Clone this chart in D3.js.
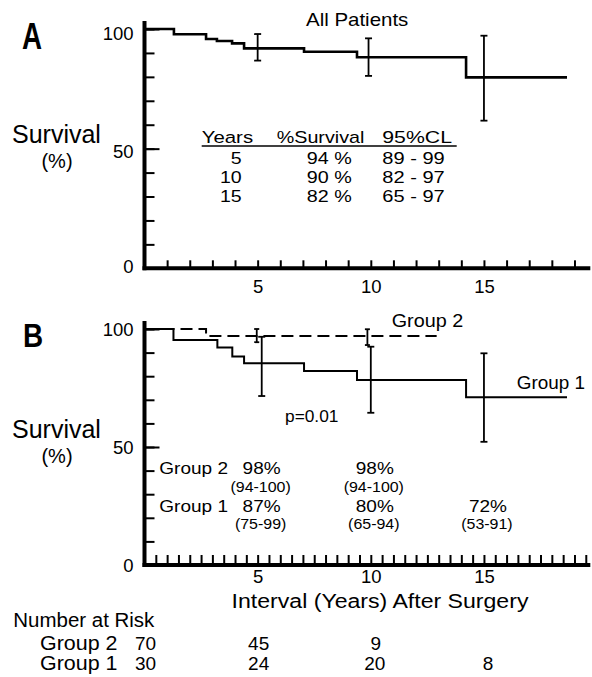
<!DOCTYPE html>
<html>
<head>
<meta charset="utf-8">
<script src="https://cdn.jsdelivr.net/npm/d3@7"></script>
<style>
  body { margin: 0; background: #fff; }
  svg { display: block; font-family: "Liberation Sans", Arial, sans-serif; }
  .axis text { font-size: 18.5px; fill: #000; }
  .axis line { stroke: #000; stroke-width: 2; }
</style>
</head>
<body>
<div id="chart"></div>
<script>
// Panel A - all patients (step curve)
const A_TIMES = [0, 1.30, 2.72, 3.20, 3.87, 4.40, 7.05, 9.39, 14.21];
const A_SURV = [100, 97.8, 95.8, 95.0, 94.0, 91.9, 90.5, 88.2, 79.8];
const A_END = 18.67;
const A_ERR_YEARS = [5, 9.9, 15];
const A_ERR_LO = [86.8, 80.4, 61.7];
const A_ERR_HI = [97.9, 96.1, 97.2];

const TABLE_YEARS = ['5', '10', '15'];
const TABLE_SURV = ['94 %', '90 %', '82 %'];
const TABLE_CL = ['89 - 99', '82 - 97', '65 - 97'];

// Panel B - two groups
const G2_TIMES = [0, 2.72];
const G2_SURV = [100, 97.0];
const G2_END = 12.91;
const G1_TIMES = [0, 1.28, 3.22, 3.88, 4.40, 7.05, 9.39, 14.21];
const G1_SURV = [100, 95.3, 92.2, 88.3, 85.5, 82.2, 78.4, 71.1];
const G1_END = 18.67;

const G2_ERR_YEARS = [4.96, 9.85];
const G2_ERR_LO = [94.4, 93.2];
const G2_ERR_HI = [100, 99.9];
const G1_ERR_YEARS = [5.18, 10.0, 15.0];
const G1_ERR_LO = [71.6, 64.5, 52.2];
const G1_ERR_HI = [96.7, 92.5, 89.7];

const STAT_YEARS = [5, 10, 15];
const G2_PCT = ['98%', '98%'];
const G2_CI = ['(94-100)', '(94-100)'];
const G1_PCT = ['87%', '80%', '72%'];
const G1_CI = ['(75-99)', '(65-94)', '(53-91)'];

// Number at risk
const RISK_YEARS = [0, 5, 10, 15];
const RISK_G2 = [70, 45, 9];
const RISK_G1 = [30, 24, 20, 8];

const Y_TICKS = d3.range(0, 101, 10);
const Y_LABELS = [0, 50, 100];

const W = 592, H = 677;
const svg = d3.select('#chart').append('svg').attr('width', W).attr('height', H);

const x = d3.scaleLinear().domain([0, 20]).range([144.5, 597.1]);
const yA = d3.scaleLinear().domain([0, 100]).range([268.3, 29]);
const yB = d3.scaleLinear().domain([0, 100]).range([565, 329]);

function txt(g, px, py, s, size, anchor = 'start', sx = 1, weight = 'normal') {
    return g.append('text')
        .attr('transform', `translate(${px},${py}) scale(${sx},1)`)
        .attr('font-size', size)
        .attr('font-weight', weight)
        .attr('text-anchor', anchor)
        .attr('fill', '#000')
        .text(s);
}

function toSteps(times, surv, end) {
    const pts = times.map((t, i) => ({ t, s: surv[i] }));
    pts.push({ t: end, s: surv[surv.length - 1] });
    return pts;
}

// Axes frame for one panel
function drawAxes(y, xTickStep, xTickLen, xPad, yLabelDy) {
    const g = svg.append('g');

    // minor y ticks
    g.append('g').attr('class', 'axis')
        .attr('transform', `translate(${x(0)},0)`)
        .call(d3.axisLeft(y).tickValues(Y_TICKS).tickSizeInner(-10).tickSizeOuter(0).tickFormat(''))
        .call(a => a.select('.domain').remove());

    // major y ticks with labels
    g.append('g').attr('class', 'axis')
        .attr('transform', `translate(${x(0)},0)`)
        .call(d3.axisLeft(y).tickValues(Y_LABELS).tickSizeInner(-15).tickSizeOuter(0).tickPadding(11))
        .call(a => a.select('.domain').remove())
        .call(a => a.selectAll('text').attr('dy', null).attr('y', d => yLabelDy(d)));

    // x ticks
    const xTicks = d3.range(xTickStep, 19.6, xTickStep);
    g.append('g').attr('class', 'axis')
        .attr('transform', `translate(0,${y(0)})`)
        .call(d3.axisBottom(x).tickValues(xTicks).tickSizeInner(-xTickLen).tickSizeOuter(0)
            .tickPadding(xPad).tickFormat(d => d % 5 === 0 ? d : ''))
        .call(a => a.select('.domain').remove());

    // thick axis lines
    g.append('line')
        .attr('x1', x(0)).attr('x2', x(0))
        .attr('y1', y(100) - 8).attr('y2', y(0) + 2)
        .attr('stroke', '#000').attr('stroke-width', 4);
    g.append('line')
        .attr('x1', x(0) - 2).attr('x2', x(19.7))
        .attr('y1', y(0)).attr('y2', y(0))
        .attr('stroke', '#000').attr('stroke-width', 4);
    return g;
}

function drawCurve(y, pts, width, dash) {
    const line = d3.line().x(d => x(d.t)).y(d => y(d.s)).curve(d3.curveStepAfter);
    svg.append('path')
        .datum(pts)
        .attr('d', line)
        .attr('fill', 'none')
        .attr('stroke', '#000')
        .attr('stroke-width', width)
        .attr('stroke-dasharray', dash || null);
}

function drawErrors(y, years, lo, hi, cap, width) {
    const g = svg.append('g').attr('stroke', '#000').attr('stroke-width', width);
    years.forEach((t, i) => {
        g.append('line').attr('x1', x(t)).attr('x2', x(t)).attr('y1', y(hi[i])).attr('y2', y(lo[i]));
        g.append('line').attr('x1', x(t) - cap).attr('x2', x(t) + cap).attr('y1', y(hi[i])).attr('y2', y(hi[i]));
        g.append('line').attr('x1', x(t) - cap).attr('x2', x(t) + cap).attr('y1', y(lo[i])).attr('y2', y(lo[i]));
    });
}

// ---------- Panel A ----------
drawAxes(yA, 1, 8, 12, d => d === 0 ? 4.5 : (d === 50 ? 8.5 : 10));
drawCurve(yA, toSteps(A_TIMES, A_SURV, A_END), 2.6);
drawErrors(yA, A_ERR_YEARS, A_ERR_LO, A_ERR_HI, 3.5, 1.8);

txt(svg, 22, 49, 'A', 37, 'start', 0.75, 'bold');
txt(svg, 12, 143, 'Survival', 25);
txt(svg, 57, 168, '(%)', 20, 'middle');
txt(svg, 306, 26, 'All Patients', 18.6, 'start', 1.1);

// summary table
const tbl = svg.append('g');
txt(tbl, 201.7, 143, 'Years', 17, 'start', 1.2);
txt(tbl, 276.7, 143, '%Survival', 17, 'start', 1.16);
txt(tbl, 382.3, 143, '95%CL', 17, 'start', 1.25);
tbl.append('line').attr('x1', 201.7).attr('x2', 456.7).attr('y1', 146).attr('y2', 146)
    .attr('stroke', '#000').attr('stroke-width', 1.5);
TABLE_YEARS.forEach((s, i) => {
    const by = 164 + i * 19;
    txt(tbl, 241.7, by, s, 17, 'end', 1.15);
    txt(tbl, 351.7, by, TABLE_SURV[i], 17, 'end', 1.16);
    txt(tbl, 382.3, by, TABLE_CL[i], 17, 'start', 1.18);
});

// ---------- Panel B ----------
drawAxes(yB, 0.5, 10, 5, d => d === 100 ? 6.5 : 6);
drawCurve(yB, toSteps(G2_TIMES, G2_SURV, G2_END), 2, '12,6');
drawCurve(yB, toSteps(G1_TIMES, G1_SURV, G1_END), 2);
drawErrors(yB, G2_ERR_YEARS, G2_ERR_LO, G2_ERR_HI, 2.5, 1.8);
drawErrors(yB, G1_ERR_YEARS, G1_ERR_LO, G1_ERR_HI, 3.5, 1.8);

txt(svg, 23, 347, 'B', 34, 'start', 0.82, 'bold');
txt(svg, 12, 438, 'Survival', 25);
txt(svg, 57, 463, '(%)', 20, 'middle');
txt(svg, 391.7, 327, 'Group 2', 18, 'start', 1.1);
txt(svg, 516.7, 389, 'Group 1', 17.5, 'start', 1.08);
txt(svg, 285, 421.5, 'p=0.01', 16.5, 'start', 1.05);

// group survival figures
txt(svg, 159.3, 474, 'Group 2', 17, 'start', 1.12);
txt(svg, 159.3, 512, 'Group 1', 17, 'start', 1.12);
G2_PCT.forEach((s, i) => {
    txt(svg, x(STAT_YEARS[i]) + 4, 474, s, 17, 'middle', 1.12);
    txt(svg, x(STAT_YEARS[i]) + 3, 491.5, G2_CI[i], 14.5, 'middle', 1.1);
});
G1_PCT.forEach((s, i) => {
    txt(svg, x(STAT_YEARS[i]) + 4, 512, s, 17, 'middle', 1.12);
    txt(svg, x(STAT_YEARS[i]) + 3, 529, G1_CI[i], 14.5, 'middle', 1.1);
});

txt(svg, 380, 608, 'Interval (Years) After Surgery', 21, 'middle', 1.1);

// ---------- Number at risk ----------
txt(svg, 13.3, 627, 'Number at Risk', 19.5, 'start', 1.05);
txt(svg, 40, 650, 'Group 2', 19.5, 'start', 1.1);
txt(svg, 40, 670, 'Group 1', 19.5, 'start', 1.1);
RISK_G2.forEach((v, i) => txt(svg, x(RISK_YEARS[i]) + (i > 1 ? 5 : 1), 650, v, 19, 'middle'));
RISK_G1.forEach((v, i) => txt(svg, x(RISK_YEARS[i]) + (i > 1 ? 4 : 1), 670, v, 19, 'middle'));
</script>
</body>
</html>
